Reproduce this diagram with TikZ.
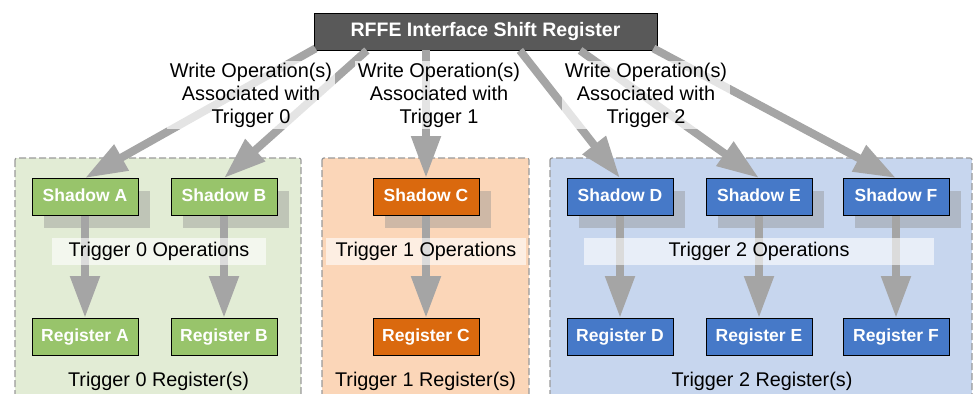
\documentclass[tikz,border=0pt]{standalone}
\usepackage{fontspec}
\setmainfont{Liberation Sans}
\usetikzlibrary{arrows.meta,calc,shadows}

\definecolor{arrowgray}{HTML}{A5A5A5}
\definecolor{dashgray}{HTML}{9A9A9A}
\definecolor{shadegray}{HTML}{8C8C8C}
\definecolor{topgray}{HTML}{595959}
\definecolor{greenfill}{HTML}{98C46B}
\definecolor{greenbg}{HTML}{E2ECD5}
\definecolor{orangefill}{HTML}{DA690E}
\definecolor{orangebg}{HTML}{FBD6B8}
\definecolor{bluefill}{HTML}{4679C8}
\definecolor{bluebg}{HTML}{C7D6EE}

\tikzset{
  box/.style={draw=black, line width=0.9pt, minimum width=106pt, minimum height=37pt,
    inner sep=0pt, text=white, text height=12.5pt, text depth=3.5pt,
    font=\fontsize{17.5}{20}\selectfont\bfseries},
  shadowbox/.style={box, general shadow={fill=shadegray, opacity=0.4,
    shadow xshift=12pt, shadow yshift=-12pt}},
  topbox/.style={draw=black, line width=0.9pt, fill=topgray, minimum width=343pt,
    minimum height=37pt, inner sep=0pt, text=white, text height=14pt, text depth=4pt,
    font=\fontsize{19.5}{23}\selectfont\bfseries},
  grp/.style={draw=dashgray, line width=1.2pt, dash pattern=on 7pt off 3pt,
    rounded corners=2pt},
  flow/.style={draw=arrowgray, line width=8pt, -{Triangle[width=28pt,length=42pt]}},
  wlabel/.style={align=center, font=\fontsize{19.9}{23}\selectfont, fill=white,
    fill opacity=0.7, text opacity=1, inner xsep=3pt, inner ysep=2pt},
  oplabel/.style={font=\fontsize{19.8}{23}\selectfont, fill=white, fill opacity=0.6,
    text opacity=1, minimum height=27pt, inner ysep=0pt, text height=14pt, text depth=4pt},
  reglabel/.style={font=\fontsize{19.8}{23}\selectfont, text height=14pt, text depth=4pt,
    inner sep=0pt},
}

\begin{document}
\begin{tikzpicture}[x=1pt,y=-1pt]
  \useasboundingbox (0,0) rectangle (973,393);

  % trigger groups
  \fill[greenbg]  (15,158) rectangle (301,400);
  \fill[orangebg] (322,158) rectangle (529,400);
  \fill[bluebg]   (550,158) rectangle (972,400);
  \draw[grp] (15,158) rectangle (301,400);
  \draw[grp] (322,158) rectangle (529,400);
  \draw[grp] (550,158) rectangle (972,400);

  % shift register
  \node[topbox] (rffe) at (485.5,31.5) {RFFE Interface Shift Register};

  % shadow registers
  \node[shadowbox, fill=greenfill]  (shA) at (85,197)  {Shadow A};
  \node[shadowbox, fill=greenfill]  (shB) at (224,197) {Shadow B};
  \node[shadowbox, fill=orangefill] (shC) at (426,197) {Shadow C};
  \node[shadowbox, fill=bluefill]   (shD) at (620,197) {Shadow D};
  \node[shadowbox, fill=bluefill]   (shE) at (759,197) {Shadow E};
  \node[shadowbox, fill=bluefill]   (shF) at (896,197) {Shadow F};

  % active registers
  \node[box, fill=greenfill]  (rgA) at (85,337)  {Register A};
  \node[box, fill=greenfill]  (rgB) at (224,337) {Register B};
  \node[box, fill=orangefill] (rgC) at (426,337) {Register C};
  \node[box, fill=bluefill]   (rgD) at (620,337) {Register D};
  \node[box, fill=bluefill]   (rgE) at (759,337) {Register E};
  \node[box, fill=bluefill]   (rgF) at (896,337) {Register F};

  % write operations fanning out of the shift register
  \draw[flow] ($(rffe.south west)+(2,-2)$) -- (shA.north);
  \draw[flow] ($(rffe.south west)!0.155!(rffe.south east)$) -- (shB.north);
  \draw[flow] (rffe.south west -| shC.north) -- (shC.north);
  \draw[flow] ($(rffe.south west)!0.60!(rffe.south east)$) -- (shD.north);
  \draw[flow] ($(rffe.south west)!0.775!(rffe.south east)$) -- (shE.north);
  \draw[flow] ($(rffe.south east)+(-4,-2)$) -- (shF.north);

  % trigger operations: shadow -> register
  \foreach \n in {A,B,C,D,E,F}
    \draw[flow] (sh\n.south) -- (rg\n.north);

  % labels
  \node[wlabel] (w0) at (251,95) {Write Operation(s)\\Associated with\\Trigger 0};
  \node[wlabel] (w1) at (439,95) {Write Operation(s)\\Associated with\\Trigger 1};
  \node[wlabel] (w2) at (646,95) {Write Operation(s)\\Associated with\\Trigger 2};

  \node[oplabel, minimum width=214pt] (op0) at (159,251.5) {Trigger 0 Operations};
  \node[oplabel, minimum width=200pt] (op1) at (426,251.5) {Trigger 1 Operations};
  \node[oplabel, minimum width=350pt] (op2) at (759,251.5) {Trigger 2 Operations};

  \node[reglabel] (rl0) at (158.5,381) {Trigger 0 Register(s)};
  \node[reglabel] (rl1) at (425.5,381) {Trigger 1 Register(s)};
  \node[reglabel] (rl2) at (762,381)   {Trigger 2 Register(s)};
\end{tikzpicture}
\end{document}
